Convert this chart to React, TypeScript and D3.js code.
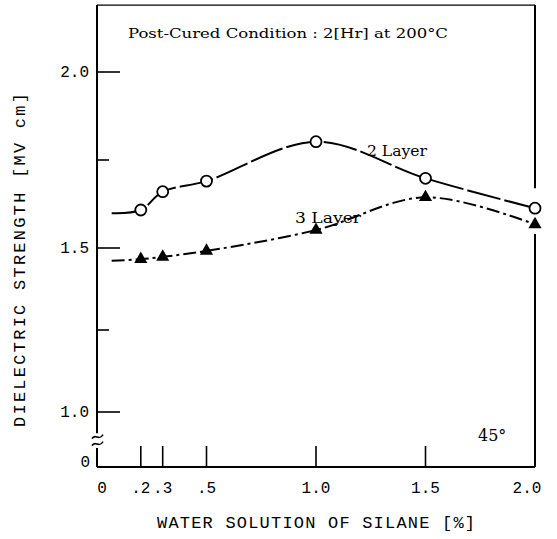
import * as d3 from "d3";

const W = 557;
const H = 539;

// x axis: water solution of silane [%]
const xTicks = [0, 0.2, 0.3, 0.5, 1.0, 1.5, 2.0];
const xTickLabels = ["0", ".2", ".3", ".5", "1.0", "1.5", "2.0"];

// y axis: dielectric strength (hand-drawn axis, upper half is a bit taller)
const yMajor = [1.0, 1.5, 2.0];
const yMajorLabels = ["1.0", "1.5", "2.0"];
const yMinor = [1.25, 1.75];

const silane = [0.2, 0.3, 0.5, 1.0, 1.5, 2.0];
const layer2 = [1.608, 1.66, 1.69, 1.802, 1.698, 1.613];
const layer3 = [1.466, 1.473, 1.491, 1.551, 1.644, 1.567];

// curves begin a little right of the axis, without a marker
const startX = 0.067;
const layer2Start = 1.599;
const layer3Start = 1.461;

const x = d3.scaleLinear().domain([0, 2]).range([97, 535]);
const y = d3.scaleLinear().domain([1.0, 1.5, 2.0]).range([412, 248, 72]);

const yTop = 2.19;
const yBreakHi = 0.935;
const yBreakLo = 0.89;
const yZeroPx = 467;

const mono = "'Liberation Mono', 'DejaVu Sans Mono', monospace";
const serif = "'DejaVu Serif', 'Liberation Serif', serif";

export default function App() {
  const line = d3
    .line<[number, number]>()
    .x((d) => x(d[0]))
    .y((d) => y(d[1]))
    .curve(d3.curveCatmullRom.alpha(0.5));

  const pts2: [number, number][] = [[startX, layer2Start], ...silane.map((s, i) => [s, layer2[i]] as [number, number])];
  const pts3: [number, number][] = [[startX, layer3Start], ...silane.map((s, i) => [s, layer3[i]] as [number, number])];

  const tri = d3.symbol().type(d3.symbolTriangle).size(75)()!;

  const left = x(0);
  const right = x(2);
  const top = y(yTop);

  // tilde break mark on the y axis
  const tilde = (cy: number) =>
    `M${left - 5},${cy + 2} C${left - 2},${cy - 4} ${left + 2},${cy + 5} ${left + 6},${cy - 2}`;
  const breakMid = (y(yBreakHi) + y(yBreakLo)) / 2;

  return (
    <svg width={W} height={H} style={{ position: "absolute", left: 0, top: 0, background: "#fff" }}>
      <rect width={W} height={H} fill="#fff" />

      {/* frame */}
      <g stroke="#000" strokeWidth={2} fill="none">
        <line x1={left} x2={right} y1={top} y2={top} strokeWidth={1.3} />
        <line x1={right} x2={right} y1={top} y2={y(1.67)} />
        <line x1={right} x2={right} y1={y(1.54)} y2={yZeroPx} />
        <line x1={left} x2={left} y1={top} y2={y(yBreakHi)} />
        <line x1={left} x2={left} y1={y(yBreakLo)} y2={yZeroPx} />
        <line x1={left} x2={right} y1={yZeroPx} y2={yZeroPx} />
        <path d={tilde(breakMid - 4)} strokeWidth={1.6} />
        <path d={tilde(breakMid + 3)} strokeWidth={1.6} />
      </g>

      {/* y ticks */}
      <g stroke="#000" strokeWidth={1.6}>
        {yMajor.map((v) => (
          <line key={v} x1={left} x2={left + 23} y1={y(v)} y2={y(v)} />
        ))}
        {yMinor.map((v) => (
          <line key={v} x1={left} x2={left + 12} y1={y(v)} y2={y(v)} />
        ))}
      </g>
      <g fontFamily={mono} fontSize={16} fill="#000" textAnchor="end">
        {yMajor.map((v, i) => (
          <text key={v} x={left - 8} y={y(v) + 5}>
            {yMajorLabels[i]}
          </text>
        ))}
        <text x={left - 7} y={yZeroPx}>0</text>
      </g>

      {/* x ticks */}
      <g stroke="#000" strokeWidth={1.6}>
        {xTicks.slice(1, -1).map((v) => (
          <line key={v} x1={x(v)} x2={x(v)} y1={yZeroPx} y2={yZeroPx - 21} />
        ))}
      </g>
      <g fontFamily={mono} fontSize={16} fill="#000" textAnchor="middle">
        {xTicks.map((v, i) => (
          <text key={v} x={x(v) + (i === 0 ? 5 : i === xTicks.length - 1 ? -8 : 0)} y={493}>
            {xTickLabels[i]}
          </text>
        ))}
      </g>

      {/* axis titles */}
      <text
        x={316}
        y={528}
        fontFamily={mono}
        fontSize={17}
        textAnchor="middle"
        textLength={318}
        lengthAdjust="spacing"
      >
        WATER SOLUTION OF SILANE [%]
      </text>
      <text
        transform={`translate(25,260) rotate(-90)`}
        fontFamily={mono}
        fontSize={17}
        textAnchor="middle"
        textLength={334}
        lengthAdjust="spacing"
      >
        DIELECTRIC STRENGTH [MV cm]
      </text>

      {/* annotations */}
      <text x={128} y={38} fontFamily={serif} fontSize={13} textLength={320} lengthAdjust="spacingAndGlyphs">
        Post-Cured Condition : 2[Hr] at 200°C
      </text>
      <text x={478} y={441} fontFamily={serif} fontSize={16}>
        45°
      </text>

      {/* series */}
      <path d={line(pts2)!} fill="none" stroke="#000" strokeWidth={2} strokeDasharray="34,4" />
      <path d={line(pts3)!} fill="none" stroke="#000" strokeWidth={2} strokeDasharray="13,4,3,4" />

      {silane.map((s, i) => (
        <circle key={s} cx={x(s)} cy={y(layer2[i])} r={5.5} fill="#fff" stroke="#000" strokeWidth={1.8} />
      ))}
      {silane.map((s, i) => (
        <path key={s} d={tri} transform={`translate(${x(s)},${y(layer3[i])})`} fill="#000" />
      ))}

      <text x={367} y={156} fontFamily={serif} fontSize={14} textLength={60} lengthAdjust="spacingAndGlyphs">
        2 Layer
      </text>
      <text x={295} y={223} fontFamily={serif} fontSize={14} textLength={66} lengthAdjust="spacingAndGlyphs">
        3 Layer
      </text>
    </svg>
  );
}
